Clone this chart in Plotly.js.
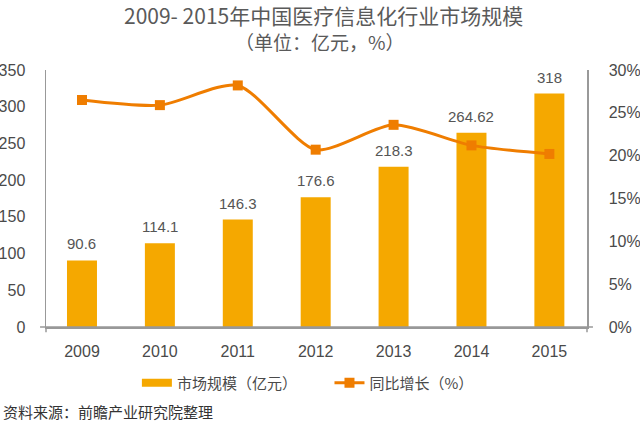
<!DOCTYPE html>
<html><head><meta charset="utf-8">
<script src="https://cdn.plot.ly/plotly-3.0.1.min.js"></script>
<style>html,body{margin:0;padding:0;background:#fff}#chart{width:640px;height:423px}</style>
</head><body><div id="chart"></div>
<script>
const years = ['2009','2010','2011','2012','2013','2014','2015'];
const marketSize = [90.6, 114.1, 146.3, 176.6, 218.3, 264.62, 318];
const marketLabels = ['90.6','114.1','146.3','176.6','218.3','264.62','318'];
const growth = [26.5, 25.9, 28.2, 20.7, 23.6, 21.2, 20.2];
const titleLine1 = '2009- 2015年中国医疗信息化行业市场规模';
const titleLine2 = '（单位：亿元，%）';
const sourceNote = '资料来源：前瞻产业研究院整理';

const FONT = 'Liberation Sans, Arial, "Noto Sans CJK SC", sans-serif';
const CJK = '"Noto Sans CJK SC", "Liberation Sans", sans-serif';
const BAR_COLOR = '#F5A800';
const LINE_COLOR = '#EF7D00';

const bar = {
  type: 'bar', x: years, y: marketSize, name: '市场规模（亿元）',
  marker: {color: BAR_COLOR}, showlegend: false, hoverinfo: 'skip'
};
const barLegend = {
  type: 'scatter', mode: 'lines', x: [null], y: [null], name: '市场规模（亿元）',
  line: {color: BAR_COLOR, width: 8}, legend: 'legend', showlegend: true, hoverinfo: 'skip'
};
const line = {
  type: 'scatter', mode: 'lines+markers', x: years, y: growth, yaxis: 'y2',
  name: '同比增长（%）', legend: 'legend2',
  line: {color: LINE_COLOR, width: 3, shape: 'spline', smoothing: 0.7},
  marker: {symbol: 'square', size: 10, color: LINE_COLOR},
  hoverinfo: 'skip'
};

const tickFont = {family: FONT, size: 16, color: '#4a4a4a'};

const labelAnnotations = years.map((yr, i) => ({
  x: i, y: marketSize[i], xref: 'x', yref: 'y', text: marketLabels[i],
  showarrow: false, yanchor: 'bottom', yshift: 6,
  font: {family: FONT, size: 15, color: '#555'}
}));

const layout = {
  width: 640, height: 423,
  margin: {l: 45.5, r: 53, t: 70, b: 96},
  paper_bgcolor: '#fff', plot_bgcolor: '#fff',
  showlegend: true,
  bargap: 0.615,
  font: {family: FONT, color: '#444'},
  xaxis: {
    type: 'category', range: [-0.462, 6.483],
    showline: true, linecolor: '#999', linewidth: 1.5,
    ticks: '', showgrid: false, zeroline: false,
    tickfont: tickFont, ticklabelstandoff: 9
  },
  yaxis: {
    range: [0, 350], dtick: 50, showline: true, linecolor: '#999', linewidth: 1.5,
    showgrid: false, zeroline: false, ticks: '',
    tickfont: tickFont, ticklabelstandoff: 16
  },
  yaxis2: {
    overlaying: 'y', side: 'right', range: [0, 30], dtick: 5, ticksuffix: '%',
    showline: true, linecolor: '#999', linewidth: 1.5,
    showgrid: false, zeroline: false, ticks: '',
    tickfont: tickFont, ticklabelstandoff: 17
  },
  legend: {
    orientation: 'h', x: 0.168, xanchor: 'left', y: -0.218, yanchor: 'middle',
    font: {family: CJK, size: 15, color: '#4a4a4a'}, bgcolor: 'rgba(0,0,0,0)'
  },
  legend2: {
    orientation: 'h', x: 0.524, xanchor: 'left', y: -0.218, yanchor: 'middle',
    font: {family: CJK, size: 15, color: '#4a4a4a'}, bgcolor: 'rgba(0,0,0,0)'
  },
  shapes: [
    {type: 'line', xref: 'paper', yref: 'paper', x0: -0.011, x1: 1.011, y0: 0, y1: 0, line: {color: '#999', width: 1.5}},
    {type: 'line', xref: 'paper', yref: 'paper', x0: 0, x1: 0, y0: 0, y1: -0.02, line: {color: '#999', width: 1.5}},
    {type: 'line', xref: 'paper', yref: 'paper', x0: 1, x1: 1, y0: 0, y1: -0.02, line: {color: '#999', width: 1.5}}
  ],
  annotations: labelAnnotations.concat([
    {text: titleLine1, xref: 'paper', yref: 'paper', x: 0.513, xanchor: 'center', y: 1.214, yanchor: 'middle',
     showarrow: false, font: {family: CJK, size: 21, color: '#5a5a5a'}},
    {text: titleLine2, xref: 'paper', yref: 'paper', x: 0.507, xanchor: 'center', y: 1.109, yanchor: 'middle',
     showarrow: false, font: {family: CJK, size: 19, color: '#5a5a5a'}},
    {text: sourceNote, xref: 'paper', yref: 'paper',
     x: -0.084, xanchor: 'left', y: -0.327, yanchor: 'middle', showarrow: false,
     font: {family: CJK, size: 15, color: '#333'}}
  ])
};

Plotly.newPlot('chart', [bar, barLegend, line], layout, {displayModeBar: false, staticPlot: true});
</script></body></html>
